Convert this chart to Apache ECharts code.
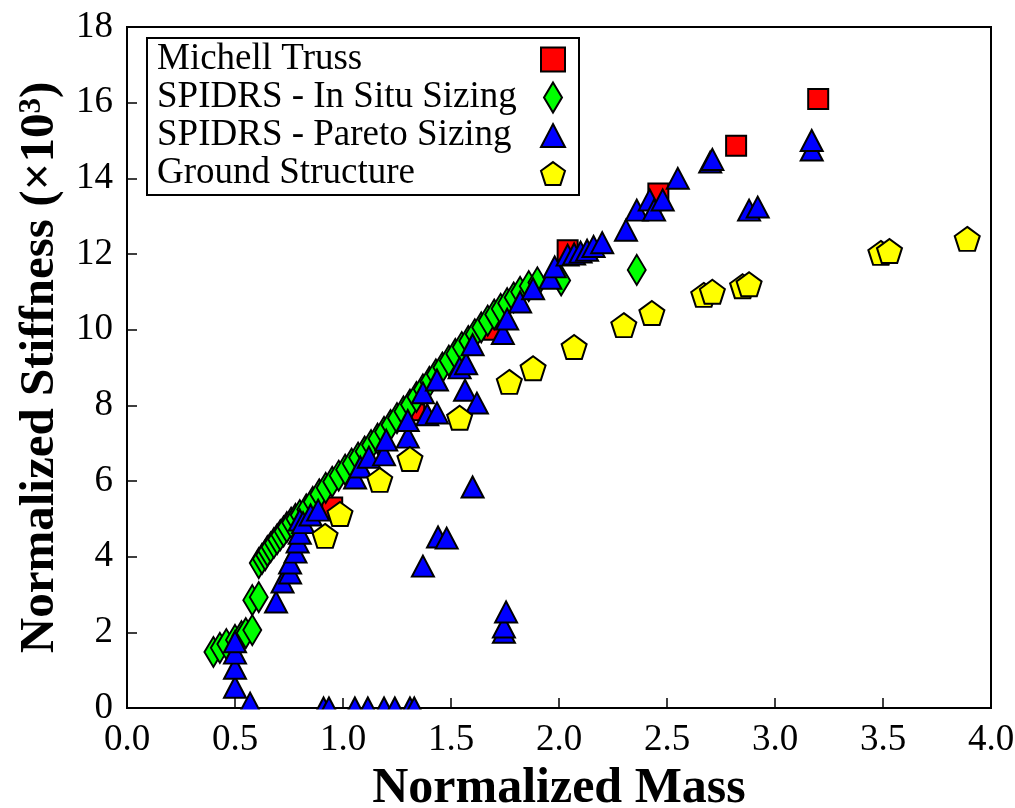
<!DOCTYPE html>
<html>
<head>
<meta charset="utf-8">
<script src="https://cdn.jsdelivr.net/npm/echarts@6/dist/echarts.min.js"></script>
<style>
  html, body { margin: 0; padding: 0; background: #ffffff; }
  #chart { width: 1015px; height: 808px; }
</style>
</head>
<body>
<div id="chart"></div>
<script>
// Michell truss reference designs
const michellMass  = [0.95, 1.33, 1.70, 2.04, 2.46, 2.82, 3.20];
const michellStiff = [5.30, 7.87, 10.00, 12.10, 13.60, 14.86, 16.10];

// SPIDRS with in-situ member sizing
const inSituMass  = [0.40, 0.43, 0.46, 0.50, 0.53, 0.55, 0.58, 0.58, 0.61,
  0.61, 0.625, 0.64, 0.65, 0.665, 0.68, 0.695, 0.71, 0.725, 0.74, 0.76, 0.78, 0.80,
  0.83, 0.86, 0.89, 0.92, 0.95, 0.98, 1.01, 1.04, 1.07, 1.10, 1.13, 1.16, 1.19,
  1.22, 1.25, 1.28, 1.31, 1.34, 1.37, 1.40, 1.43, 1.46, 1.49, 1.52, 1.55, 1.58,
  1.61, 1.64, 1.67, 1.70, 1.73, 1.76, 1.79, 1.82, 1.86, 1.90, 2.01, 2.36];
const inSituStiff = [1.48, 1.59, 1.69, 1.80, 1.90, 1.98, 2.06, 2.85, 2.93,
  3.83, 3.94, 4.04, 4.15, 4.25, 4.36, 4.46, 4.57, 4.67, 4.78, 4.90, 5.00, 5.10,
  5.25, 5.45, 5.65, 5.82, 5.98, 6.14, 6.30, 6.46, 6.62, 6.78, 6.95, 7.12, 7.30,
  7.48, 7.66, 7.84, 8.02, 8.22, 8.42, 8.62, 8.82, 9.00, 9.18, 9.36, 9.54, 9.70,
  9.88, 10.06, 10.24, 10.40, 10.55, 10.70, 10.85, 11.00, 11.15, 11.25, 11.30, 11.58];

// SPIDRS with Pareto sizing
const paretoMass  = [0.50, 0.50, 0.50, 0.50, 0.57,
  0.69, 0.72, 0.755, 0.755, 0.78, 0.79, 0.80, 0.80, 0.815, 0.85, 0.885,
  0.91, 0.935, 1.055, 1.115, 1.19, 1.24, 1.31, 1.33,
  1.056, 1.08, 1.12, 1.19, 1.20, 1.30, 1.30, 1.37, 1.37, 1.39, 1.435, 1.435,
  1.44, 1.48, 1.54, 1.565, 1.57, 1.60, 1.60, 1.62, 1.74, 1.745, 1.745, 1.755,
  1.76, 1.82, 1.88, 1.96, 1.98, 2.04, 2.07, 2.10, 2.13, 2.16, 2.20, 2.31, 2.36,
  2.42, 2.44, 2.48, 2.55, 2.70, 2.71, 2.88, 2.92, 3.17, 3.17];
const paretoStiff = [0.55, 1.05, 1.45, 1.75, 0.13,
  2.80, 3.33, 3.57, 3.83, 4.12, 4.39, 4.62, 4.97, 4.90, 5.10, 5.23,
  0, 0, 0, 0, 0, 0, 0, 0,
  6.08, 6.37, 6.63, 6.69, 7.08, 7.16, 7.60, 3.75, 8.33, 7.75, 7.80, 8.67,
  4.52, 4.49, 8.99, 8.40, 9.10, 5.84, 9.60, 8.06, 9.90, 2.00, 2.14, 2.54,
  10.28, 10.73, 11.08, 11.36, 11.66, 11.97, 12.00, 12.05, 12.10, 12.20, 12.30, 12.63, 13.16,
  13.43, 13.16, 13.43, 14.00, 14.43, 14.50, 13.16, 13.24, 14.75, 15.00];

// Ground structure optimisation results
const groundMass  = [0.917, 0.986, 1.17, 1.31, 1.54, 1.77, 1.88, 2.07, 2.30, 2.43,
  2.67, 2.71, 2.85, 2.88, 3.49, 3.53, 3.89];
const groundStiff = [4.55, 5.13, 6.03, 6.58, 7.67, 8.62, 8.98, 9.54, 10.12, 10.44,
  10.92, 11.00, 11.15, 11.20, 12.03, 12.08, 12.40];

const xTickLabels = ['0.0', '0.5', '1.0', '1.5', '2.0', '2.5', '3.0', '3.5', '4.0'];
const yTickLabels = ['0', '2', '4', '6', '8', '10', '12', '14', '16', '18'];

const FONT = "'Liberation Serif', 'Times New Roman', serif";

const SQUARE   = 'path://M0,0L20,0L20,20L0,20Z';
const DIAMOND  = 'path://M9,0L18,15L9,30L0,15Z';
const TRIANGLE = 'path://M11,0L22,21L0,21Z';
const PENTAGON = 'path://M0,-1L0.951,-0.309L0.588,0.809L-0.588,0.809L-0.951,-0.309Z';

const zip = (a, b) => a.map((v, i) => [v, b[i]]);
const markerStyle = color => ({ color: color, borderColor: '#000000', borderWidth: 2, opacity: 1 });

const chart = echarts.init(document.getElementById('chart'), null, { renderer: 'canvas' });

chart.setOption({
  animation: false,
  backgroundColor: '#ffffff',
  grid: {
    left: 127, top: 27, width: 864, height: 681,
    outerBoundsMode: 'none',
    containLabel: false,
    show: true, borderColor: '#000000', borderWidth: 2, backgroundColor: 'transparent'
  },
  legend: {
    orient: 'vertical',
    left: 147, top: 38,
    align: 'right',
    padding: [3, 13, 3, 10],
    itemGap: 1,
    itemWidth: 24, itemHeight: 30,
    borderColor: '#000000', borderWidth: 2, borderRadius: 0,
    backgroundColor: '#ffffff',
    selectedMode: false,
    data: [
      { name: 'Michell Truss', icon: SQUARE },
      { name: 'SPIDRS - In Situ Sizing', icon: DIAMOND },
      { name: 'SPIDRS - Pareto Sizing', icon: TRIANGLE },
      { name: 'Ground Structure', icon: PENTAGON }
    ],
    formatter: n => '{t|' + n + '}',
    textStyle: {
      fontFamily: FONT, fontSize: 37, color: '#000000', lineHeight: 37,
      rich: { t: { width: 379, align: 'left', fontFamily: FONT, fontSize: 37, lineHeight: 37, color: '#000000' } }
    }
  },
  xAxis: {
    type: 'value', min: 0, max: 4, interval: 0.5,
    name: 'Normalized Mass', nameLocation: 'middle', nameGap: 52,
    nameTextStyle: { fontFamily: FONT, fontWeight: 'bold', fontSize: 50, color: '#000000' },
    axisLine: { show: true, lineStyle: { color: '#000000', width: 2 } },
    axisTick: { show: true, inside: true, length: 10, lineStyle: { color: '#000000', width: 1.5 } },
    splitLine: { show: false },
    axisLabel: {
      fontFamily: FONT, fontSize: 37, color: '#000000', margin: 14,
      formatter: v => xTickLabels[Math.round(v / 0.5)]
    }
  },
  yAxis: {
    type: 'value', min: 0, max: 18, interval: 2,
    name: 'Normalized Stiffness (×10{sup|3})', nameLocation: 'middle', nameGap: 60,
    nameTextStyle: {
      fontFamily: FONT, fontWeight: 'bold', fontSize: 49, color: '#000000',
      rich: { sup: { fontFamily: FONT, fontWeight: 'bold', fontSize: 31, color: '#000000', verticalAlign: 'top' } }
    },
    axisLine: { show: true, lineStyle: { color: '#000000', width: 2 } },
    axisTick: { show: true, inside: true, length: 10, lineStyle: { color: '#000000', width: 1.5 } },
    splitLine: { show: false },
    axisLabel: {
      fontFamily: FONT, fontSize: 37, color: '#000000', margin: 14,
      formatter: v => yTickLabels[Math.round(v / 2)]
    }
  },
  series: [
    {
      type: 'scatter', name: 'Michell Truss',
      data: zip(michellMass, michellStiff),
      symbol: SQUARE, symbolSize: [20, 20],
      itemStyle: markerStyle('#ff0000')
    },
    {
      type: 'scatter', name: 'SPIDRS - In Situ Sizing',
      data: zip(inSituMass, inSituStiff),
      symbol: DIAMOND, symbolSize: [18, 30],
      itemStyle: markerStyle('#00ff00')
    },
    {
      type: 'scatter', name: 'SPIDRS - Pareto Sizing',
      data: zip(paretoMass, paretoStiff),
      symbol: TRIANGLE, symbolSize: [22, 21],
      itemStyle: markerStyle('#0000ff')
    },
    {
      type: 'scatter', name: 'Ground Structure',
      data: zip(groundMass, groundStiff),
      symbol: PENTAGON, symbolSize: [25, 24],
      itemStyle: markerStyle('#ffff00')
    }
  ]
});

// Hide the parts of markers that fall below the x axis line
const origin = chart.convertToPixel({ gridIndex: 0 }, [0, 0]);
const far = chart.convertToPixel({ gridIndex: 0 }, [4, 0]);
chart.setOption({
  graphic: [{
    type: 'rect', silent: true, z: 10,
    shape: { x: origin[0] + 2, y: origin[1] + 1.5, width: far[0] - origin[0] - 4, height: 13 },
    style: { fill: '#ffffff' }
  }]
});
</script>
</body>
</html>
